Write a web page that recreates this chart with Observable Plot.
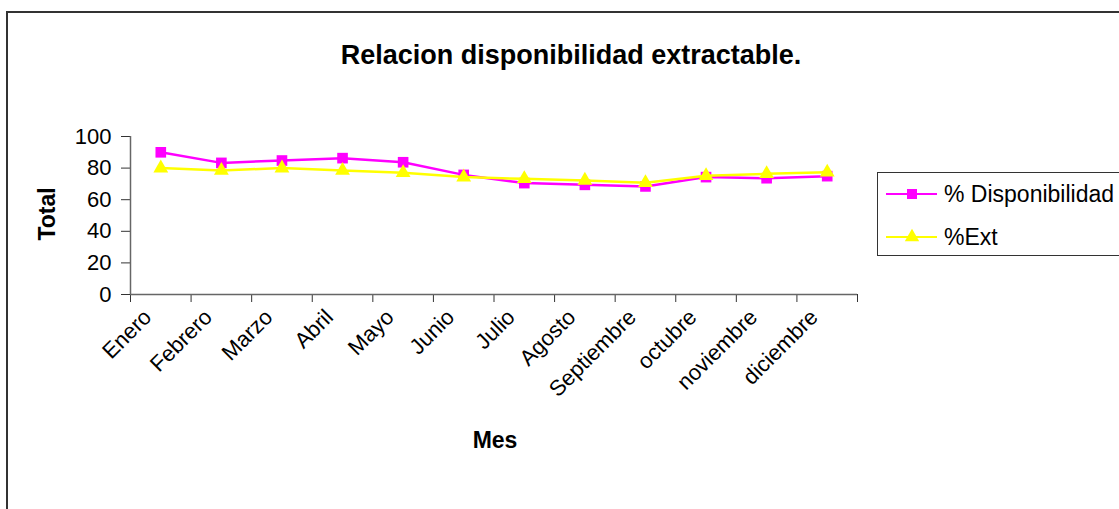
<!DOCTYPE html>
<html>
<head>
<meta charset="utf-8">
<script src="https://cdn.jsdelivr.net/npm/d3@7"></script>
<script src="https://cdn.jsdelivr.net/npm/@observablehq/plot@0.6"></script>
<style>
  html, body { margin: 0; padding: 0; background: #fff; }
  #wrap { position: relative; width: 1119px; height: 509px; overflow: hidden; font-family: "Liberation Sans", Arial, sans-serif; }
  #border { position: absolute; left: 6px; top: 11px; width: 1300px; height: 700px; border: 2px solid #333; box-sizing: border-box; }
  #title { position: absolute; left: 0; width: 1142px; top: 40px; text-align: center; font-weight: bold; font-size: 27px; color: #000; }
  #ylab { position: absolute; left: 47px; top: 214px; transform: translate(-50%, -50%) rotate(-90deg); font-weight: bold; font-size: 23px; white-space: nowrap; }
  #xlab { position: absolute; left: 495px; top: 440px; transform: translate(-50%, -50%); font-weight: bold; font-size: 23px; }
  #legend { position: absolute; left: 877px; top: 172px; width: 300px; height: 84px; border: 1.5px solid #333; box-sizing: border-box; background: #fff; }
  #chart { position: absolute; left: 0; top: 0; }
</style>
</head>
<body>
<div id="wrap">
  <div id="border"></div>
  <div id="chart"></div>
  <div id="title">Relacion disponibilidad extractable.</div>
  <div id="ylab">Total</div>
  <div id="xlab">Mes</div>
  <div id="legend"></div>
</div>
<script>
const months = ["Enero","Febrero","Marzo","Abril","Mayo","Junio","Julio","Agosto","Septiembre","octubre","noviembre","diciembre"];
const disponibilidad = [90, 83.3, 84.8, 86.3, 83.7, 75.7, 70.5, 69.4, 68.4, 74.3, 73.6, 74.9];
const ext = [80, 78.5, 80, 78.5, 77, 74.3, 73.2, 72.2, 70.7, 75.1, 76.4, 77.4];
const yTicks = [0, 20, 40, 60, 80, 100];
const seriesNames = ["% Disponibilidad", "%Ext"];
const seriesColors = ["#FF00FF", "#FFFF00"];

const data = months.map((m, i) => ({i, m, d: disponibilidad[i], e: ext[i]}));

const chart = Plot.plot({
  width: 1119,
  height: 509,
  marginLeft: 130,
  marginRight: 262,
  marginTop: 136,
  marginBottom: 215,
  style: {fontFamily: "'Liberation Sans', Arial, sans-serif", background: "transparent", color: "#000"},
  x: {type: "linear", domain: [-0.5, months.length - 0.5]},
  y: {domain: [0, 100]},
  marks: [
    Plot.axisY({ticks: yTicks, tickSize: 9, tickPadding: 10, fontSize: 22, label: null, stroke: "#333", strokeOpacity: 1}),
    Plot.axisX({ticks: d3.range(-0.5, months.length, 1), tickSize: 8, tickFormat: () => "", label: null, stroke: "#333", strokeOpacity: 1}),
    Plot.axisX({ticks: d3.range(months.length), tickSize: 0, tickFormat: i => months[i], tickRotate: -45, fontSize: 22, label: null, tickPadding: 19, dx: -13}),
    Plot.ruleX([-0.5], {stroke: "#666", strokeWidth: 1.5}),
    Plot.ruleY([0], {stroke: "#666", strokeWidth: 1.5}),
    Plot.line(data, {x: "i", y: "d", stroke: seriesColors[0], strokeWidth: 2.5}),
    Plot.dot(data, {x: "i", y: "d", symbol: "square", fill: seriesColors[0], r: 6}),
    Plot.line(data, {x: "i", y: "e", stroke: seriesColors[1], strokeWidth: 2.5}),
    Plot.dot(data, {x: "i", y: "e", symbol: "triangle", fill: seriesColors[1], r: 5.5})
  ]
});
document.getElementById("chart").appendChild(chart);

// legend
const leg = d3.select("#legend").append("svg").attr("width", 300).attr("height", 84);
const rows = [{y: 21, sym: "square"}, {y: 64, sym: "triangle"}];
rows.forEach((r, k) => {
  leg.append("line").attr("x1", 8).attr("x2", 59).attr("y1", r.y).attr("y2", r.y)
    .attr("stroke", seriesColors[k]).attr("stroke-width", 2);
  const sym = k === 0 ? d3.symbolSquare : d3.symbolTriangle;
  leg.append("path").attr("d", d3.symbol(sym, k === 0 ? 100 : 90)())
    .attr("transform", `translate(34,${r.y})`).attr("fill", seriesColors[k]);
  leg.append("text").attr("x", 66).attr("y", r.y).attr("dy", "0.35em")
    .attr("font-size", 23).attr("font-family", "'Liberation Sans', Arial, sans-serif")
    .text(seriesNames[k]);
});
</script>
</body>
</html>
